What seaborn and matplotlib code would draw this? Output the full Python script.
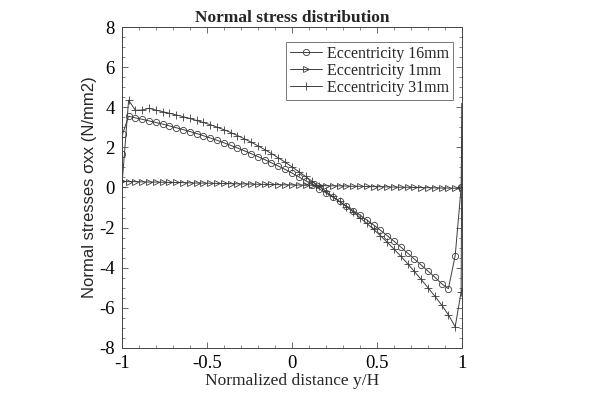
import numpy as np
import pandas as pd
import matplotlib
matplotlib.use("Agg")
import matplotlib.pyplot as plt
import seaborn as sns
from matplotlib.ticker import MultipleLocator

# === Data ===
x_mid = [-0.96, -0.92, -0.88, -0.84, -0.80, -0.76, -0.72, -0.68, -0.64, -0.60,
         -0.56, -0.52, -0.48, -0.44, -0.40, -0.36, -0.32, -0.28, -0.24, -0.20,
         -0.16, -0.12, -0.08, -0.04, 0.00, 0.04, 0.08, 0.12, 0.16, 0.20,
         0.24, 0.28, 0.32, 0.36, 0.40, 0.44, 0.48, 0.52, 0.56, 0.60,
         0.64, 0.68, 0.72, 0.76, 0.80, 0.84, 0.88, 0.92, 0.96]

x_16 = [-1.0, -0.995] + x_mid + [0.995, 1.0]
y_16 = [1.68, 2.68,
        3.55, 3.47, 3.40, 3.32, 3.24, 3.16, 3.07, 2.98, 2.89, 2.79,
        2.69, 2.58, 2.47, 2.35, 2.23, 2.10, 1.97, 1.83, 1.69, 1.54,
        1.39, 1.23, 1.07, 0.90, 0.72, 0.53, 0.34, 0.14, -0.06, -0.27,
        -0.48, -0.70, -0.92, -1.15, -1.38, -1.62, -1.87, -2.13, -2.40, -2.68,
        -2.97, -3.27, -3.57, -3.87, -4.17, -4.47, -4.80, -5.05, -3.40,
        0.00, 4.20]

x_1 = [-1.0] + x_mid + [1.0]
y_1 = [0.30,
       0.29, 0.29, 0.28, 0.27, 0.27, 0.26, 0.25, 0.25, 0.24, 0.23,
       0.22, 0.22, 0.21, 0.20, 0.20, 0.19, 0.18, 0.18, 0.17, 0.16,
       0.15, 0.15, 0.14, 0.13, 0.13, 0.12, 0.11, 0.11, 0.10, 0.09,
       0.08, 0.08, 0.07, 0.06, 0.06, 0.05, 0.04, 0.04, 0.03, 0.02,
       0.01, 0.01, 0.00, -0.01, -0.01, -0.02, -0.03, -0.03, -0.04,
       -0.05]

x_31 = [-1.0] + x_mid + [0.995, 1.0]
y_31 = [0.00,
        4.35, 3.85, 3.86, 3.95, 3.86, 3.78, 3.70, 3.62, 3.53, 3.44,
        3.34, 3.24, 3.13, 3.01, 2.88, 2.74, 2.59, 2.43, 2.26, 2.08,
        1.89, 1.69, 1.48, 1.26, 1.03, 0.79, 0.55, 0.30, 0.05, -0.20,
        -0.45, -0.70, -0.96, -1.22, -1.50, -1.79, -2.09, -2.40, -2.73, -3.07,
        -3.43, -3.80, -4.19, -4.59, -5.00, -5.42, -5.86, -6.35, -6.95,
        -5.20, 4.20]

labels = ["Eccentricity 16mm", "Eccentricity 1mm", "Eccentricity 31mm"]

df = pd.concat([
    pd.DataFrame({"x": x_16, "y": y_16, "series": labels[0]}),
    pd.DataFrame({"x": x_1, "y": y_1, "series": labels[1]}),
    pd.DataFrame({"x": x_31, "y": y_31, "series": labels[2]}),
], ignore_index=True)

sns.set_theme(style="ticks")
plt.rcParams["font.family"] = ["Liberation Serif", "DejaVu Serif"]

fig = plt.figure(figsize=(6, 3.98), dpi=100)
ax = fig.add_axes([0.203, 0.126, 0.567, 0.806])

line_col = "#3c3c3c"
styles = {
    labels[0]: dict(marker="o", markersize=4.5, markevery=slice(0, len(x_16) - 1)),
    labels[1]: dict(marker=">", markersize=4.5),
    labels[2]: dict(marker="+", markersize=5.5, markevery=slice(0, len(x_31) - 1)),
}
for name in labels:
    sub = df[df["series"] == name]
    sns.lineplot(data=sub, x="x", y="y", ax=ax, sort=False, estimator=None,
                 color=line_col, linewidth=0.7, label=name,
                 markerfacecolor="none", markeredgecolor=line_col,
                 markeredgewidth=0.6, **styles[name])

ax.set_xlim(-1, 1)
ax.set_ylim(-8, 8)
ax.xaxis.set_minor_locator(MultipleLocator(0.1))
ax.yaxis.set_minor_locator(MultipleLocator(0.5))
ax.set_xticks([-1, -0.5, 0, 0.5, 1])
ax.set_xticklabels(["-1", "-0.5", "0", "0.5", "1"])
ax.set_yticks([-8, -6, -4, -2, 0, 2, 4, 6, 8])
ax.set_yticklabels(["-8", "-6", "-4", "-2", "0", "2", "4", "6", "8"])
ax.tick_params(which="both", direction="in", top=True, right=True,
               colors="#555555", labelcolor="black", labelsize=13.5)
ax.tick_params(which="major", length=4, width=0.6)
ax.tick_params(which="minor", length=2.2, width=0.5)
ax.tick_params(axis="x", pad=5)
ax.tick_params(axis="y", pad=5)
for s in ax.spines.values():
    s.set_color("#444444")
    s.set_linewidth(0.7)

ax.set_xlabel("Normalized distance y/H", fontsize=12.5, labelpad=1)
ax.set_ylabel("Normal stresses σxx (N/mm2)", fontsize=12,
              family=["Liberation Sans", "DejaVu Sans"])
ax.yaxis.set_label_coords(-0.072, 0.5)
ax.set_title("Normal stress distribution", fontsize=12.5, fontweight="bold", pad=4)

leg = ax.legend(loc="upper right", fontsize=11.5, frameon=True, fancybox=False,
                framealpha=1, edgecolor="#777777",
                bbox_to_anchor=(453 / 600, 1 - 42 / 398),
                bbox_transform=fig.transFigure, borderaxespad=0,
                handlelength=2.0, handletextpad=0.3, labelspacing=0.05,
                borderpad=0.25)
leg.get_frame().set_linewidth(0.7)

fig.savefig("out.png", dpi=100)
